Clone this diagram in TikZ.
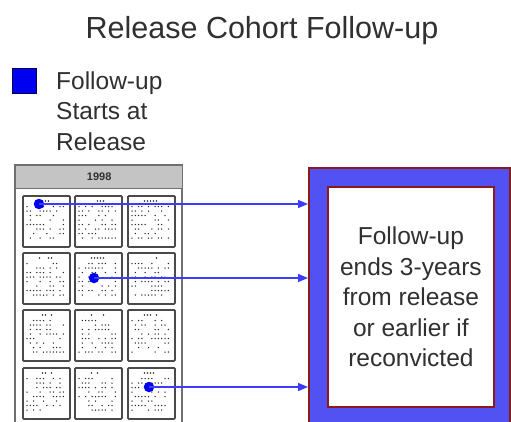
\documentclass[tikz,border=0pt]{standalone}
\usepackage{fontspec}
\setmainfont{Liberation Sans}
\usetikzlibrary{arrows.meta}
\definecolor{txt}{HTML}{303030}
\definecolor{boxblue}{HTML}{5252F2}
\definecolor{boxedge}{HTML}{8B1A1A}
\definecolor{arrowblue}{HTML}{3C3CFF}
\definecolor{dotblue}{HTML}{0000F0}
\definecolor{panelgray}{HTML}{707070}
\definecolor{headgray}{HTML}{C4C4C4}
\definecolor{celledge}{HTML}{4A4A4A}
\definecolor{speck}{HTML}{2A2A2A}
\tikzset{
  bigtext/.style={font=\fontsize{24.5}{30.5}\selectfont, text=txt},
  legendsq/.style={draw=black!70!blue, line width=1.2pt, fill=dotblue, minimum width=24pt, minimum height=25pt, inner sep=0pt, anchor=north west},
  panel/.style={draw=panelgray, line width=1.4pt, fill=white},
  header/.style={draw=panelgray, line width=1.4pt, fill=headgray, minimum width=167pt, minimum height=23pt, inner sep=0pt, anchor=north west, font=\bfseries\fontsize{11}{12}\selectfont, text=txt},
  cellbox/.style={draw=celledge, line width=1.8pt, fill=white, minimum width=47pt, minimum height=51pt, inner sep=0pt, anchor=north west, rounded corners=1pt},
  bluedot/.style={circle, fill=dotblue, minimum size=10.5pt, inner sep=0pt},
  outerbox/.style={draw=boxedge, line width=2pt, fill=boxblue, minimum width=201pt, minimum height=280pt, inner sep=0pt, anchor=north west},
  innerbox/.style={draw=boxedge, line width=1.8pt, fill=white, minimum width=166pt, minimum height=220pt, inner sep=0pt, anchor=north west, align=center},
  arr/.style={draw=arrowblue, line width=1.4pt, -{Triangle[length=10pt,width=8pt]}},
}
\begin{document}
\begin{tikzpicture}[x=1pt,y=-1pt]
\useasboundingbox (0,0) rectangle (511,421);
\clip (0,0) rectangle (511,421);
\fill[white] (0,0) rectangle (511,421);
% title
\node[anchor=base, font=\fontsize{30.5}{35}\selectfont, text=txt, inner sep=0pt] (title) at (262,38) {Release Cohort Follow-up};
% legend
\node[legendsq] (legsq) at (12,68) {};
\node[bigtext, anchor=north west, align=left, inner sep=0pt] (legtext) at (56,71.5) {Follow-up\\Starts at\\Release};
% calendar panel
\draw[panel] (15,165) rectangle (182,440);
\node[header] (head) at (15,165) {1998};
\pgfmathsetseed{11}
\foreach \r [count=\ri] in {195,252,309,367} {
  \foreach \c [count=\ci] in {22,74,127} {
    \node[cellbox] (cell-\ri-\ci) at (\c,\r) {};
    \foreach \xx in {17.5,20.5,23.5,26.5,29.5} {
      \pgfmathtruncatemacro\keep{rnd>0.3}
      \ifnum\keep=1 \fill[speck] (\c+\xx,\r+6) circle (0.8pt); \fi
    }
    \foreach \yy in {11.5,16,20.5,25,29.5,34,38.5,43} {
      \foreach \xx in {5,8.3,...,43} {
        \pgfmathtruncatemacro\keep{rnd>0.5}
        \ifnum\keep=1 \fill[speck] (\c+\xx,\r+\yy) circle (0.75pt); \fi
      }
    }
  }
}
% follow-up box
\node[outerbox] (outer) at (308,167) {};
\node[innerbox, bigtext] (inner) at (327,186) {Follow-up\\ends 3-years\\from release\\or earlier if\\reconvicted};
% release dots and arrows
\node[bluedot] (d1) at (39,204) {};
\node[bluedot] (d2) at (94,278) {};
\node[bluedot] (d3) at (149,387) {};
\draw[arr] (d1.center) -- (d1 -| outer.west);
\draw[arr] (d2.center) -- (d2 -| outer.west);
\draw[arr] (d3.center) -- (d3 -| outer.west);
\end{tikzpicture}
\end{document}
